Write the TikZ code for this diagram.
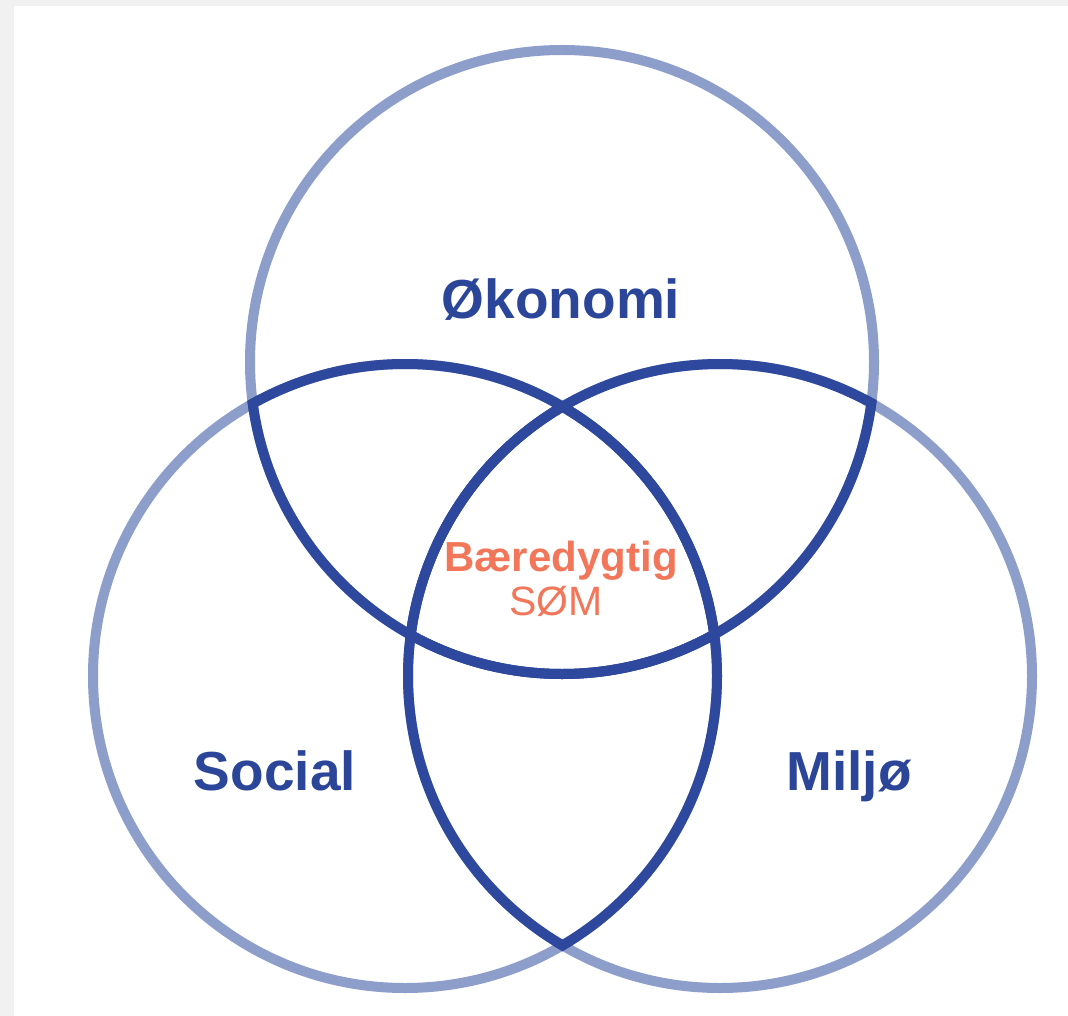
\documentclass[tikz,border=0pt]{standalone}
\usepackage{fontspec}
\setmainfont{Liberation Sans}
\definecolor{lightring}{HTML}{8E9ECB}
\definecolor{darkring}{HTML}{2E489D}
\definecolor{labelblue}{HTML}{2B4599}
\definecolor{coreorange}{HTML}{F2775A}
\definecolor{pagegray}{HTML}{F1F1F1}
\begin{document}
\begin{tikzpicture}[x=1pt,y=-1pt,
  ring/.style={line width=10pt,draw=lightring},
  inner ring/.style={line width=10pt,draw=darkring},
  sectorlabel/.style={text=labelblue,font=\fontsize{55}{62}\selectfont\bfseries,anchor=base,inner sep=0pt},
  corebold/.style={text=coreorange,font=\fontsize{42}{48}\selectfont\bfseries,anchor=base,inner sep=0pt},
  corereg/.style={text=coreorange,font=\fontsize{41}{47}\selectfont,anchor=base,inner sep=0pt}]
\useasboundingbox (0,0) rectangle (1068,1016);
\fill[pagegray] (0,0) rectangle (1068,1016);
\fill[white] (14,6) rectangle (1068,1016);
\coordinate (cT) at (562,362);
\coordinate (cL) at (405,676);
\coordinate (cR) at (720,676);
\def\rr{312}
% outer light rings
\draw[ring] (cT) circle[radius=\rr];
\draw[ring] (cL) circle[radius=\rr];
\draw[ring] (cR) circle[radius=\rr];
% dark inner arcs: each circle inside the other circles
\begin{scope}\clip (cL) circle[radius=\rr+5];\draw[inner ring] (cT) circle[radius=\rr];\end{scope}
\begin{scope}\clip (cR) circle[radius=\rr+5];\draw[inner ring] (cT) circle[radius=\rr];\end{scope}
\begin{scope}\clip (cT) circle[radius=\rr+5];\draw[inner ring] (cL) circle[radius=\rr];\end{scope}
\begin{scope}\clip (cR) circle[radius=\rr+5];\draw[inner ring] (cL) circle[radius=\rr];\end{scope}
\begin{scope}\clip (cT) circle[radius=\rr+5];\draw[inner ring] (cR) circle[radius=\rr];\end{scope}
\begin{scope}\clip (cL) circle[radius=\rr+5];\draw[inner ring] (cR) circle[radius=\rr];\end{scope}
% labels
\node[sectorlabel] (oko) at (561,319) {Økonomi};
\node[sectorlabel] (soc) at (275,790) {Social};
\node[sectorlabel] (mil) at (849,790) {Miljø};
\node[corebold] (baer) at (561,571) {Bæredygtig};
\node[corereg] (som) at (556,615) {SØM};
\end{tikzpicture}
\end{document}
